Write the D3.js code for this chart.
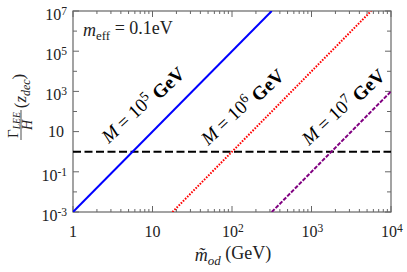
<!DOCTYPE html>
<html>
<head>
<meta charset="utf-8">
<script src="https://cdn.jsdelivr.net/npm/d3@7"></script>
<style>
  body { margin: 0; background: #fff; }
  text { font-family: "Liberation Serif", "Times New Roman", "DejaVu Serif", serif; }
</style>
</head>
<body>
<svg id="chart" width="407" height="272"></svg>
<script>
// data
const xDomain = [1, 1e4];
const yDomain = [1e-3, 1e7];

const xMajorTicks = [1, 10, 100, 1000, 10000];
const xTickLabels = [["1", ""], ["10", ""], ["10", "2"], ["10", "3"], ["10", "4"]];
const yMajorTicks = [1e-3, 1e-1, 1e1, 1e3, 1e5, 1e7];
const yTickLabels = [["10", "-3"], ["10", "-1"], ["10", ""], ["10", "3"], ["10", "5"], ["10", "7"]];

// M = 1e5, 1e6, 1e7 GeV : straight lines on log-log, end points
const m5X = [1, 316.2];
const m5Y = [1e-3, 1e7];
const m6X = [17.8, 5623];
const m6Y = [1e-3, 1e7];
const m7X = [316.2, 1e4];
const m7Y = [1e-3, 1e3];
const hubbleX = [1, 1e4];
const hubbleY = [1, 1];

const labelExps = ["5", "6", "7"];
const labelAtX = [7.4, 132, 2450];
const labelAtY = [240, 190, 190];

const width = 407;
const height = 272;
const margin = { left: 73, right: 16, top: 11, bottom: 60 };

const svg = d3.select("#chart");
const serif = "'Liberation Serif', 'Times New Roman', 'DejaVu Serif', serif";

const x = d3.scaleLog().domain(xDomain).range([margin.left, width - margin.right]);
const y = d3.scaleLog().domain(yDomain).range([height - margin.bottom, margin.top]);

const axisColor = "#666";
const textColor = "#222";

// minor ticks
const xMinor = [];
for (let d = 1; d < 1e4; d *= 10) {
    for (let k = 2; k <= 9; k++) xMinor.push(d * k);
}
const yMinor = [];
for (let e = -2; e <= 6; e += 2) yMinor.push(Math.pow(10, e));

function drawTicks(g, scale, values, len, orient) {
    values.forEach(function (v) {
        const p = scale(v);
        let x1, y1, x2, y2;
        if (orient == "bottom") { x1 = x2 = p; y1 = y.range()[0]; y2 = y1 - len; }
        if (orient == "top") { x1 = x2 = p; y1 = y.range()[1]; y2 = y1 + len; }
        if (orient == "left") { y1 = y2 = p; x1 = x.range()[0]; x2 = x1 + len; }
        if (orient == "right") { y1 = y2 = p; x1 = x.range()[1]; x2 = x1 - len; }
        g.append("line")
            .attr("x1", x1).attr("y1", y1).attr("x2", x2).attr("y2", y2)
            .attr("stroke", axisColor).attr("stroke-width", 1);
    });
}

const axes = svg.append("g");
drawTicks(axes, x, xMajorTicks, 6, "bottom");
drawTicks(axes, x, xMinor, 3, "bottom");
drawTicks(axes, x, xMajorTicks, 6, "top");
drawTicks(axes, x, xMinor, 3, "top");
drawTicks(axes, y, yMajorTicks, 6, "left");
drawTicks(axes, y, yMinor, 4, "left");
drawTicks(axes, y, yMajorTicks, 6, "right");
drawTicks(axes, y, yMinor, 4, "right");

// frame
axes.append("rect")
    .attr("x", x.range()[0]).attr("y", y.range()[1])
    .attr("width", x.range()[1] - x.range()[0])
    .attr("height", y.range()[0] - y.range()[1])
    .attr("fill", "none").attr("stroke", axisColor).attr("stroke-width", 1.2);

function powerLabel(sel, base, exp) {
    sel.append("tspan").text(base);
    if (exp != "") {
        sel.append("tspan").attr("dy", "-0.45em").attr("font-size", "0.72em").text(exp);
    }
}

// x tick labels
xMajorTicks.forEach(function (v, i) {
    const t = svg.append("text")
        .attr("x", x(v) + (xTickLabels[i][1] != "" ? 1 : 0))
        .attr("y", 237)
        .attr("text-anchor", "middle")
        .attr("font-family", serif)
        .attr("font-size", 16)
        .attr("fill", textColor);
    powerLabel(t, xTickLabels[i][0], xTickLabels[i][1]);
});

// y tick labels
yMajorTicks.forEach(function (v, i) {
    const hasExp = yTickLabels[i][1] != "";
    const t = svg.append("text")
        .attr("x", hasExp ? 67 : 64)
        .attr("y", y(v) + (hasExp ? 9 : 5))
        .attr("text-anchor", "end")
        .attr("font-family", serif)
        .attr("font-size", 16)
        .attr("fill", textColor);
    powerLabel(t, yTickLabels[i][0], yTickLabels[i][1]);
});

// lines
svg.append("clipPath").attr("id", "plot-clip")
    .append("rect")
    .attr("x", x.range()[0]).attr("y", y.range()[1])
    .attr("width", x.range()[1] - x.range()[0])
    .attr("height", y.range()[0] - y.range()[1]);

const line = d3.line().x(d => x(d[0])).y(d => y(d[1]));
const plot = svg.append("g").attr("clip-path", "url(#plot-clip)");

function drawSeries(xs, ys, color, w, dash) {
    plot.append("path")
        .datum(d3.zip(xs, ys))
        .attr("d", line)
        .attr("fill", "none")
        .attr("stroke", color)
        .attr("stroke-width", w)
        .attr("stroke-dasharray", dash);
}

drawSeries(hubbleX, hubbleY, "#000", 2, "8,3.5");
drawSeries(m5X, m5Y, "#0000ff", 2, null);
drawSeries(m6X, m6Y, "#ff0000", 2, "1.6,1.4");
drawSeries(m7X, m7Y, "#800080", 2, "4,1.5");

// M labels
labelExps.forEach(function (e, i) {
    const t = svg.append("text")
        .attr("transform", `translate(${x(labelAtX[i])},${y(labelAtY[i])}) rotate(-43)`)
        .attr("text-anchor", "middle")
        .attr("dy", "0.35em")
        .attr("font-family", serif)
        .attr("font-size", 19)
        .attr("fill", "#000");
    t.append("tspan").attr("font-style", "italic").text("M");
    t.append("tspan").text(" = 10");
    t.append("tspan").attr("dy", "-0.45em").attr("font-size", "0.72em").text(e);
    t.append("tspan").attr("dy", "0.45em").attr("font-weight", "bold").text(" GeV");
});

// m_eff annotation
const meff = svg.append("text")
    .attr("x", 83).attr("y", 36)
    .attr("font-family", serif)
    .attr("font-size", 18)
    .attr("fill", textColor);
meff.append("tspan").attr("font-style", "italic").text("m");
meff.append("tspan").attr("dy", "0.3em").attr("font-size", "0.72em").text("eff");
meff.append("tspan").attr("dy", "-0.3em").text(" = 0.1eV");

// x axis title
const xt = svg.append("text")
    .attr("x", 233).attr("y", 261)
    .attr("text-anchor", "middle")
    .attr("font-family", serif)
    .attr("font-size", 18)
    .attr("fill", textColor);
xt.append("tspan").attr("font-style", "italic").text("m\u0303");
xt.append("tspan").attr("dy", "0.3em").attr("font-size", "0.72em").attr("font-style", "italic").text("od");
xt.append("tspan").attr("dy", "-0.3em").text(" (GeV)");

// y axis title: fraction Gamma_LEE / H  (z_dec), rotated
const yt = svg.append("g").attr("transform", "translate(21,108) rotate(-90)");
const num = yt.append("text")
    .attr("x", -17).attr("y", -3)
    .attr("text-anchor", "middle")
    .attr("font-family", serif)
    .attr("font-size", 15)
    .attr("fill", textColor);
num.append("tspan").text("\u0393");
num.append("tspan").attr("dy", "0.25em").attr("font-size", "0.65em").attr("font-style", "italic").text("LEE");
yt.append("line")
    .attr("x1", -32).attr("x2", -2).attr("y1", 0).attr("y2", 0)
    .attr("stroke", textColor).attr("stroke-width", 0.8);
yt.append("text")
    .attr("x", -17).attr("y", 11)
    .attr("text-anchor", "middle")
    .attr("font-family", serif)
    .attr("font-size", 14)
    .attr("font-style", "italic")
    .attr("fill", textColor)
    .text("H");
const zt = yt.append("text")
    .attr("x", 17).attr("y", 5)
    .attr("text-anchor", "middle")
    .attr("font-family", serif)
    .attr("font-size", 17)
    .attr("fill", textColor);
zt.append("tspan").text("(");
zt.append("tspan").attr("font-style", "italic").text("z");
zt.append("tspan").attr("dy", "0.3em").attr("font-size", "0.7em").attr("font-style", "italic").text("dec");
zt.append("tspan").attr("dy", "-0.3em").text(")");
</script>
</body>
</html>
